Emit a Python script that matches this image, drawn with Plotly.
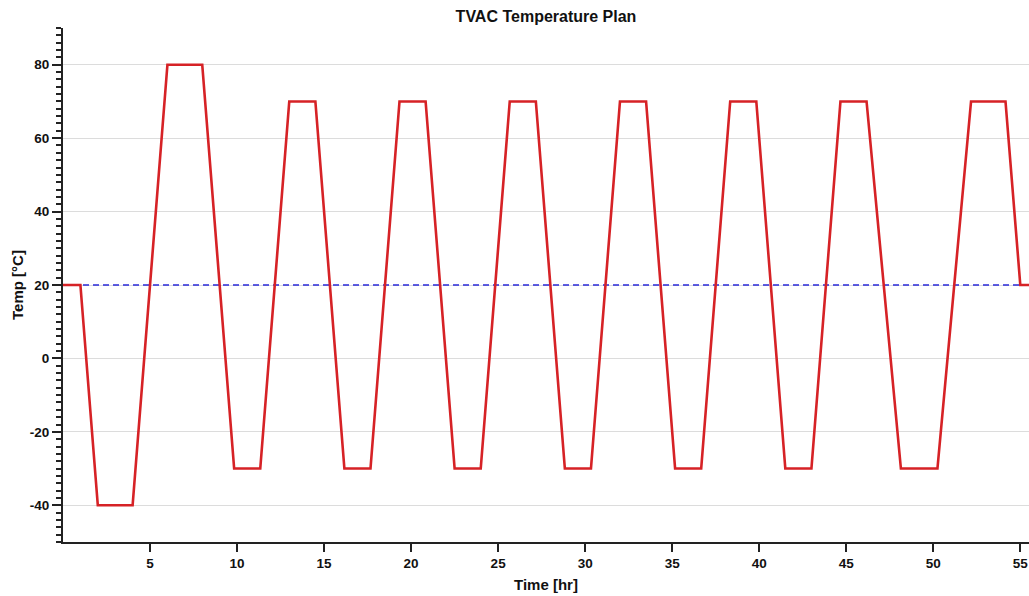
import plotly.graph_objects as go

# Temperature profile breakpoints (hours, deg C)
time_hr = [0, 1, 2, 4, 6, 8, 9.833, 11.333, 13.0, 14.5, 16.167, 17.667,
           19.333, 20.833, 22.5, 24.0, 25.667, 27.167, 28.833, 30.333,
           32.0, 33.5, 35.167, 36.667, 38.333, 39.833, 41.5, 43.0,
           44.667, 46.167, 48.14, 50.24, 52.17, 54.15, 55.0, 55.5]
temp_c = [20, 20, -40, -40, 80, 80, -30, -30, 70, 70, -30, -30,
          70, 70, -30, -30, 70, 70, -30, -30,
          70, 70, -30, -30, 70, 70, -30, -30,
          70, 70, -30, -30, 70, 70, 20, 20]

ambient_t = [0, 55.5]
ambient_c = [20, 20]

x_ticks = [5, 10, 15, 20, 25, 30, 35, 40, 45, 50, 55]
y_ticks = [-40, -20, 0, 20, 40, 60, 80]

font_family = "Liberation Sans, Arial, sans-serif"

fig = go.Figure()
fig.add_trace(go.Scatter(x=ambient_t, y=ambient_c, mode="lines",
                         line=dict(color="#2a2ad8", width=1.5, dash="6px,4px"),
                         hoverinfo="skip", showlegend=False))
fig.add_trace(go.Scatter(x=time_hr, y=temp_c, mode="lines",
                         line=dict(color="#d62226", width=2.6),
                         showlegend=False))

fig.update_layout(
    width=1029, height=596,
    margin=dict(l=63, r=0, t=28, b=54, autoexpand=False),
    paper_bgcolor="white", plot_bgcolor="white",
    font=dict(family=font_family, size=12, color="#111"),
    title=dict(text="<b>TVAC Temperature Plan</b>", x=0.5, xref="paper",
               y=0.973, yref="container", yanchor="middle",
               font=dict(size=16, family=font_family, color="#111")),
    xaxis=dict(range=[0, 55.5], tickvals=x_ticks,
               ticktext=[f"<b>{v}</b>" for v in x_ticks],
               showgrid=False, zeroline=False, automargin=False,
               showline=True, linecolor="#222", linewidth=2,
               ticks="outside", ticklen=8, tickwidth=2, tickcolor="#222",
               title=dict(text="<b>Time [hr]</b>", standoff=9,
                          font=dict(size=15, family=font_family)),
               tickfont=dict(size=13.5, family=font_family)),
    yaxis=dict(range=[-50, 90], tickvals=y_ticks,
               ticktext=[f"<b>{v}</b>" for v in y_ticks],
               showgrid=True, gridcolor="#dcdcdc", gridwidth=1.2,
               zeroline=False, automargin=False,
               showline=True, linecolor="#222", linewidth=2,
               ticks="outside", ticklen=9, tickwidth=2, tickcolor="#222",
               minor=dict(dtick=2, ticks="outside", ticklen=5, tickwidth=1.5,
                          tickcolor="#222", showgrid=False),
               title=dict(text="<b>Temp [°C]</b>", standoff=3,
                          font=dict(size=15, family=font_family)),
               tickfont=dict(size=13.5, family=font_family)),
)

fig.write_html("out.html", config={"displayModeBar": False},
               post_script="document.body.style.margin='0';"
                           "document.body.style.overflow='hidden';")
